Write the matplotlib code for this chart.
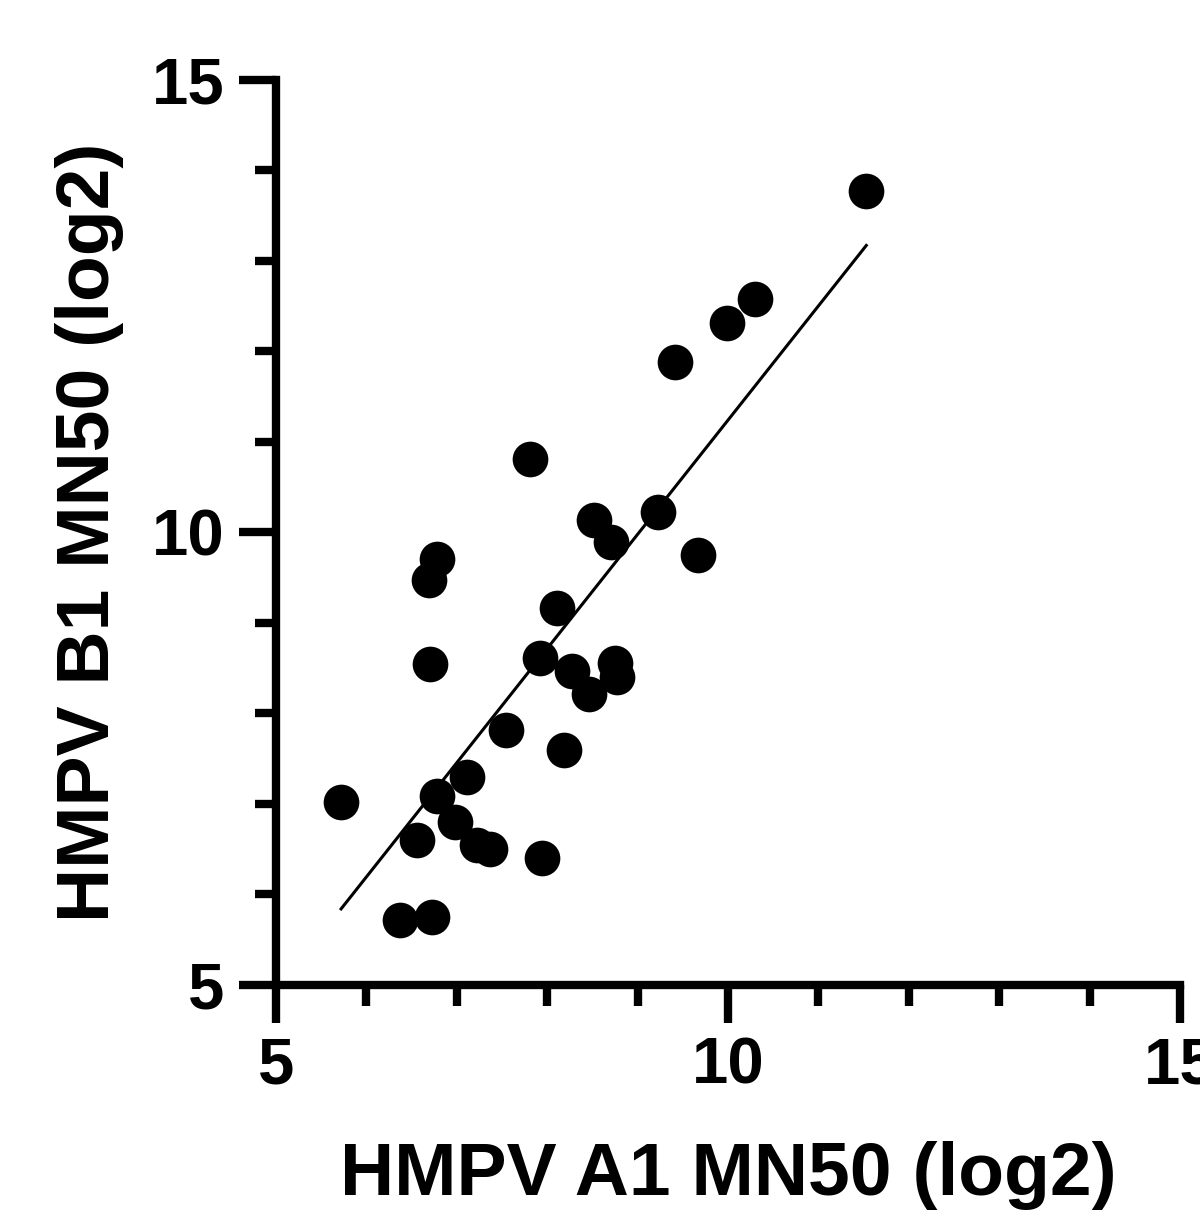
import numpy as np
import matplotlib
matplotlib.use('Agg')
import matplotlib.pyplot as plt
from matplotlib.ticker import MultipleLocator

plt.rcParams['font.family'] = ['Liberation Sans', 'DejaVu Sans']
plt.rcParams['font.weight'] = 'bold'

# HMPV A1 vs B1 MN50 titres (log2)
a1 = [11.53, 10.30, 9.99, 9.41, 7.81, 9.23, 8.52, 8.71, 9.67, 6.78,
      6.69, 8.11, 6.70, 7.92, 8.27, 8.75, 8.77, 8.46, 7.54, 8.19,
      7.11, 6.78, 5.72, 6.98, 6.56, 7.22, 7.37, 7.94, 6.37, 6.73]
b1 = [13.77, 12.58, 12.31, 11.88, 10.81, 10.23, 10.14, 9.90, 9.75, 9.71,
      9.48, 9.17, 8.55, 8.61, 8.47, 8.56, 8.40, 8.22, 7.82, 7.60,
      7.30, 7.09, 7.02, 6.80, 6.60, 6.55, 6.50, 6.40, 5.72, 5.75]

x_ticks = [5, 10, 15]
y_ticks = [5, 10, 15]

fig = plt.figure(figsize=(12, 12.21), dpi=100)
ax = fig.add_axes([0.23, 0.1933, 0.7533, 0.7412])

ax.scatter(a1, b1, s=660, color='black', zorder=3, linewidths=0)

# linear fit across the data range
slope, icpt = np.polyfit(a1, b1, 1)
xs = np.array([min(a1), max(a1)])
ax.plot(xs, slope * xs + icpt, color='black', lw=2.2, zorder=2)

ax.set_xlim(5, 15)
ax.set_ylim(5, 15)
ax.set_xticks(x_ticks)
ax.set_yticks(y_ticks)
ax.xaxis.set_minor_locator(MultipleLocator(1))
ax.yaxis.set_minor_locator(MultipleLocator(1))

for s in ['top', 'right']:
    ax.spines[s].set_visible(False)
for s in ['left', 'bottom']:
    ax.spines[s].set_linewidth(6)
    ax.spines[s].set_capstyle('projecting')

ax.tick_params(which='major', length=27, width=6, labelsize=47, pad=10)
ax.tick_params(which='minor', length=15, width=6)

ax.set_xlabel('HMPV A1 MN50 (log2)', fontsize=54, fontweight='bold', labelpad=32)
ax.set_ylabel('HMPV B1 MN50 (log2)', fontsize=54, fontweight='bold', labelpad=20)

fig.savefig('out.png', dpi=100)
